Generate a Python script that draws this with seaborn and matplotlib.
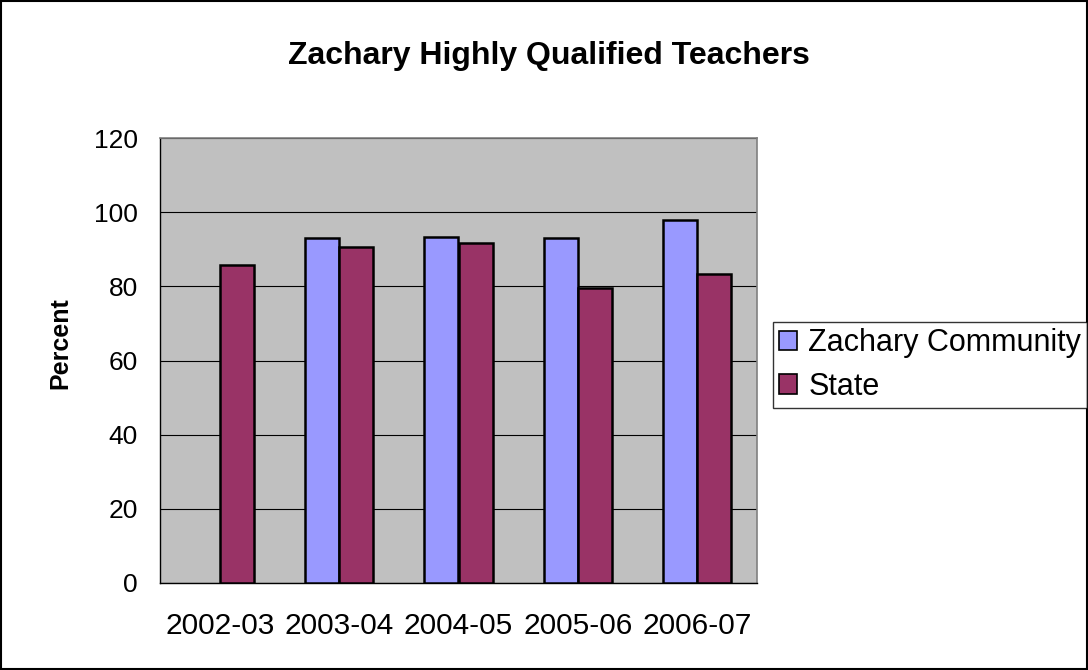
import matplotlib
matplotlib.use("Agg")
import matplotlib.pyplot as plt
import seaborn as sns
import pandas as pd
import numpy as np
from matplotlib.patches import Patch, Rectangle

years = ["2002-03", "2003-04", "2004-05", "2005-06", "2006-07"]
zachary = [np.nan, 92.9, 93.4, 92.9, 97.9]
state = [85.7, 90.6, 91.7, 79.5, 83.4]
series_names = ["Zachary Community", "State"]
colors = ["#9999FF", "#993366"]
y_ticks = [0, 20, 40, 60, 80, 100, 120]

df = pd.DataFrame({
    "Year": years * 2,
    "Percent": zachary + state,
    "Series": [series_names[0]] * len(years) + [series_names[1]] * len(years),
})

sns.set_style("white")
plt.rcParams["font.family"] = ["Liberation Sans", "DejaVu Sans"]
plt.rcParams["text.color"] = "black"
plt.rcParams["axes.labelcolor"] = "black"
plt.rcParams["xtick.color"] = "black"
plt.rcParams["ytick.color"] = "black"

fig = plt.figure(figsize=(10.88, 6.70), dpi=100)
ax = fig.add_axes([160 / 1088, 1 - 583 / 670, (757 - 160) / 1088, (583 - 138) / 670])
ax.set_facecolor("#C0C0C0")

sns.barplot(data=df, x="Year", y="Percent", hue="Series", hue_order=series_names,
            palette=colors, width=0.572, edgecolor="black", linewidth=1.8,
            saturation=1, ax=ax, legend=False, zorder=3)

ax.set_ylim(0, 120)
ax.set_xlim(-0.5, len(years) - 0.5)
ax.set_yticks(y_ticks)
ax.set_yticklabels([str(t) for t in y_ticks], fontsize=19)
ax.yaxis.grid(True, color="black", linewidth=0.8, zorder=0)
ax.set_axisbelow(True)

ax.set_xticks(range(len(years)))
ax.set_xticklabels(years, fontsize=21.5)
ax.tick_params(axis="x", which="major", length=0, pad=21)
ax.set_xticks(np.arange(-0.5, len(years), 1.0), minor=True)
ax.tick_params(axis="x", which="minor", length=8, width=1, color="black", direction="out")
ax.tick_params(axis="y", length=8, width=1, color="black", direction="out", pad=8)

ax.set_xlabel("")
ax.set_ylabel("Percent", fontsize=18, fontweight="bold")
ax.yaxis.set_label_coords(-0.146, 0.54)

for s in ["top", "right"]:
    ax.spines[s].set_color("#808080")
    ax.spines[s].set_linewidth(1.2)
for s in ["left", "bottom"]:
    ax.spines[s].set_color("black")
    ax.spines[s].set_linewidth(1.0)

fig.text(549 / 1088, 1 - 56 / 670, "Zachary Highly Qualified Teachers",
         ha="center", va="center", fontsize=23, fontweight="bold")

handles = [Patch(facecolor=c, edgecolor="black", linewidth=1.2) for c in colors]
leg = fig.legend(handles, series_names, loc="upper left",
                 bbox_to_anchor=(773 / 1088, 1 - 322 / 670), fontsize=22,
                 frameon=True, fancybox=False, edgecolor="black",
                 handlelength=0.6, handleheight=0.6, handletextpad=0.35,
                 borderpad=0.2, labelspacing=0.45, borderaxespad=0)
leg.get_frame().set_linewidth(1.0)

fig.patches.append(Rectangle((0.001, 0.001), 0.998, 0.998, transform=fig.transFigure,
                             fill=False, edgecolor="black", linewidth=1.5))

fig.savefig("out.png", dpi=100, facecolor="white")
